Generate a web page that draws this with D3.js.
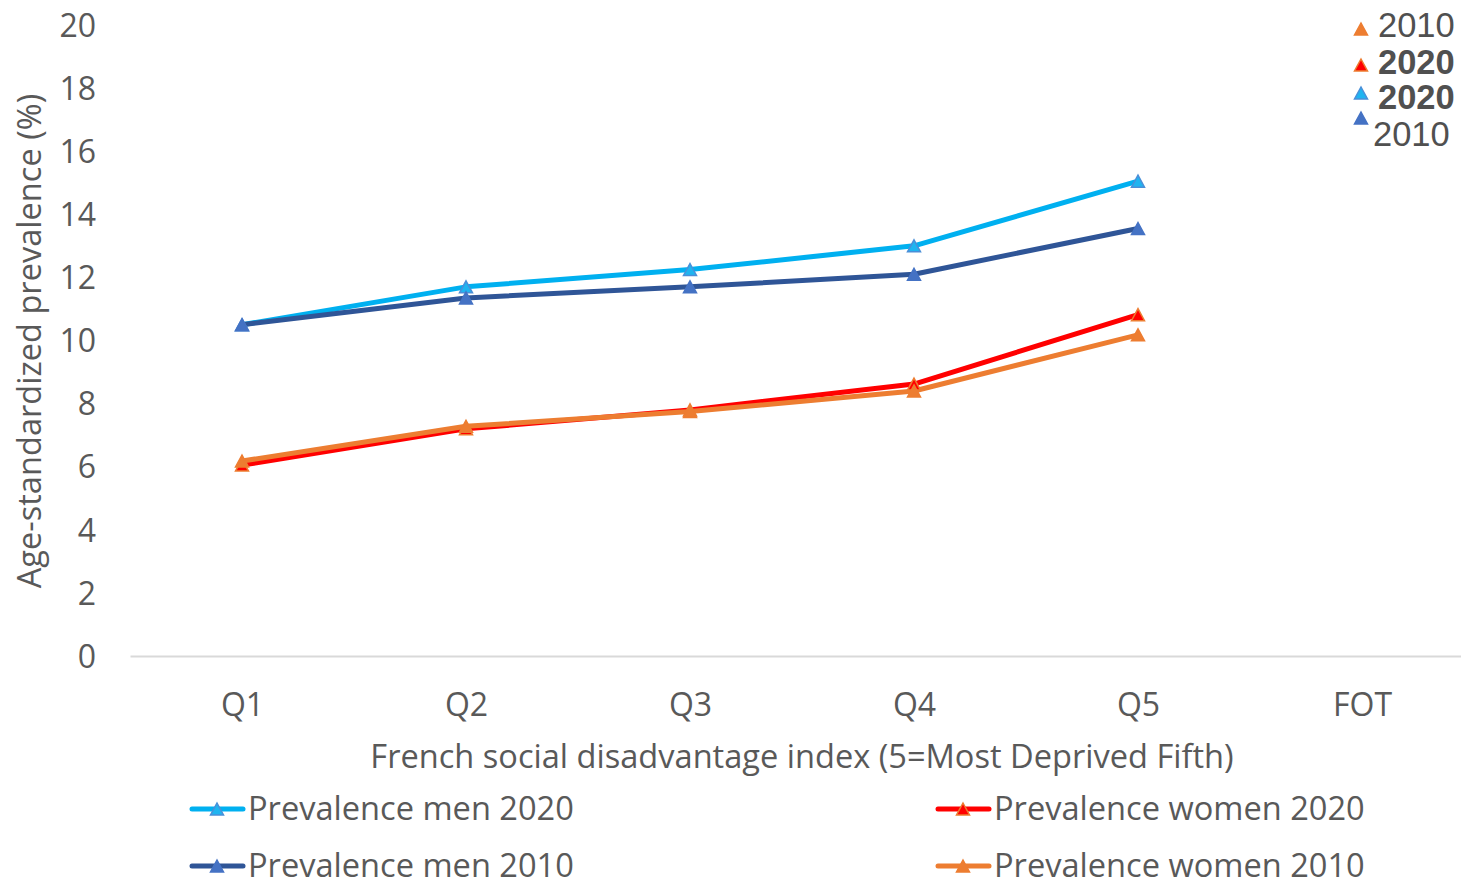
<!DOCTYPE html>
<html>
<head>
<meta charset="utf-8">
<script src="https://cdn.jsdelivr.net/npm/d3@7"></script>
<style>
  html, body { margin: 0; padding: 0; background: #ffffff; }
  svg { display: block; }
</style>
</head>
<body>
<svg id="chart" width="1461" height="886"></svg>
<script>
// Categories along the x axis
const quintiles = ["Q1", "Q2", "Q3", "Q4", "Q5", "FOT"];
// Age-standardized prevalence (%) by quintile
const menPrev2020   = [10.5, 11.7, 12.25, 13.0, 15.05];
const menPrev2010   = [10.5, 11.35, 11.7, 12.1, 13.55];
const womenPrev2020 = [6.05, 7.2, 7.8, 8.62, 10.82];
const womenPrev2010 = [6.18, 7.28, 7.75, 8.4, 10.18];
// Y tick values
const yTicks = [0, 2, 4, 6, 8, 10, 12, 14, 16, 18, 20];
// Series names
const seriesNames = ["Prevalence men 2020", "Prevalence women 2020", "Prevalence men 2010", "Prevalence women 2010"];
// Small year key at top right
const yearKeyLabels = ["2010", "2020", "2020", "2010"];

const svg = d3.select("#chart");
const textColor = "#595959";
const axisFont = "'Open Sans', sans-serif";

const x = d3.scalePoint().domain(quintiles).range([130, 1474]).padding(0.5);
const y = d3.scaleLinear().domain([0, 20]).range([656, 25]);

// Triangle marker path centered on its bounding box
function tri(w, h) {
  return `M0,${-h / 2}L${w / 2},${h / 2}L${-w / 2},${h / 2}Z`;
}

const series = [
  { name: seriesNames[0], values: menPrev2020, line: "#00b0f0", fill: "#1fb4f0", stroke: "#4a8fd8" },
  { name: seriesNames[1], values: womenPrev2020, line: "#ff0000", fill: "#ff0000", stroke: "#ed7d31" },
  { name: seriesNames[2], values: menPrev2010, line: "#2f5597", fill: "#4472c4", stroke: "#4472c4" },
  { name: seriesNames[3], values: womenPrev2010, line: "#ed7d31", fill: "#ed7d31", stroke: "#ed7d31" }
];

// Y axis (labels only)
const yAxis = d3.axisLeft(y).tickValues(yTicks).tickSize(0).tickPadding(0);
const gy = svg.append("g").attr("transform", "translate(96,0)").call(yAxis);
gy.select(".domain").remove();
gy.selectAll("text")
  .attr("fill", textColor)
  .style("font-family", axisFont)
  .style("font-size", "32px")
  .attr("dy", "0.35em");

// X axis
const xAxis = d3.axisBottom(x).tickSize(0).tickPadding(0);
const gx = svg.append("g").attr("transform", "translate(0,656)").call(xAxis);
gx.select(".domain").attr("stroke", "#d9d9d9").attr("stroke-width", 2);
gx.selectAll("text")
  .attr("fill", textColor)
  .style("font-family", axisFont)
  .style("font-size", "32px")
  .attr("y", 49)
  .attr("dy", "0.35em");

// Axis titles
svg.append("text")
  .attr("x", 802).attr("y", 757).attr("dy", "0.35em")
  .attr("text-anchor", "middle")
  .attr("fill", textColor)
  .style("font-family", axisFont).style("font-size", "32.6px")
  .text("French social disadvantage index (5=Most Deprived Fifth)");

svg.append("text")
  .attr("transform", "translate(30,341) rotate(-90)")
  .attr("dy", "0.35em")
  .attr("text-anchor", "middle")
  .attr("fill", textColor)
  .style("font-family", axisFont).style("font-size", "32.6px")
  .text("Age-standardized prevalence (%)");

// Lines and markers (2020 first, 2010 on top)
const line = d3.line().x((d, i) => x(quintiles[i])).y(d => y(d));

series.forEach(s => {
  svg.append("path")
    .datum(s.values)
    .attr("d", line)
    .attr("fill", "none")
    .attr("stroke", s.line)
    .attr("stroke-width", 5)
    .attr("stroke-linejoin", "round")
    .attr("stroke-linecap", "round");
});
series.forEach(s => {
  svg.append("g").selectAll("path")
    .data(s.values)
    .join("path")
    .attr("transform", (d, i) => `translate(${x(quintiles[i])},${y(d)})`)
    .attr("d", tri(13, 12))
    .attr("fill", s.fill)
    .attr("stroke", s.stroke)
    .attr("stroke-width", 1.5);
});

// Bottom legend
const legendItems = [
  { s: series[0], x: 190, y: 809 },
  { s: series[1], x: 936, y: 809 },
  { s: series[2], x: 190, y: 866 },
  { s: series[3], x: 936, y: 866 }
];
legendItems.forEach(it => {
  const g = svg.append("g").attr("transform", `translate(${it.x},${it.y})`);
  g.append("line")
    .attr("x1", 2).attr("x2", 53).attr("y1", 0).attr("y2", 0)
    .attr("stroke", it.s.line).attr("stroke-width", 5).attr("stroke-linecap", "round");
  g.append("path")
    .attr("transform", "translate(27,0)")
    .attr("d", tri(13, 12))
    .attr("fill", it.s.fill).attr("stroke", it.s.stroke).attr("stroke-width", 1.5);
  g.append("text")
    .attr("x", 58).attr("y", 0).attr("dy", "0.35em")
    .attr("fill", textColor)
    .style("font-family", axisFont).style("font-size", "32.6px")
    .text(it.s.name);
});

// Year key at top right
const yearKey = [
  { label: yearKeyLabels[0], bold: false, fill: "#ed7d31", stroke: "#ed7d31", my: 29, tx: 1378, ty: 25 },
  { label: yearKeyLabels[1], bold: true,  fill: "#ff0000", stroke: "#ed7d31", my: 65, tx: 1378, ty: 62 },
  { label: yearKeyLabels[2], bold: true,  fill: "#1fb4f0", stroke: "#4a8fd8", my: 93, tx: 1378, ty: 97 },
  { label: yearKeyLabels[3], bold: false, fill: "#4472c4", stroke: "#4472c4", my: 118, tx: 1373, ty: 134 }
];
yearKey.forEach(k => {
  svg.append("path")
    .attr("transform", `translate(1361,${k.my})`)
    .attr("d", tri(13, 12))
    .attr("fill", k.fill).attr("stroke", k.stroke).attr("stroke-width", 1.5);
  svg.append("text")
    .attr("x", k.tx).attr("y", k.ty).attr("dy", "0.36em")
    .attr("fill", "#505050")
    .style("font-family", "'Liberation Sans', Arial, sans-serif")
    .style("font-size", "34.5px")
    .style("font-weight", k.bold ? "bold" : "normal")
    .text(k.label);
});
</script>
</body>
</html>
